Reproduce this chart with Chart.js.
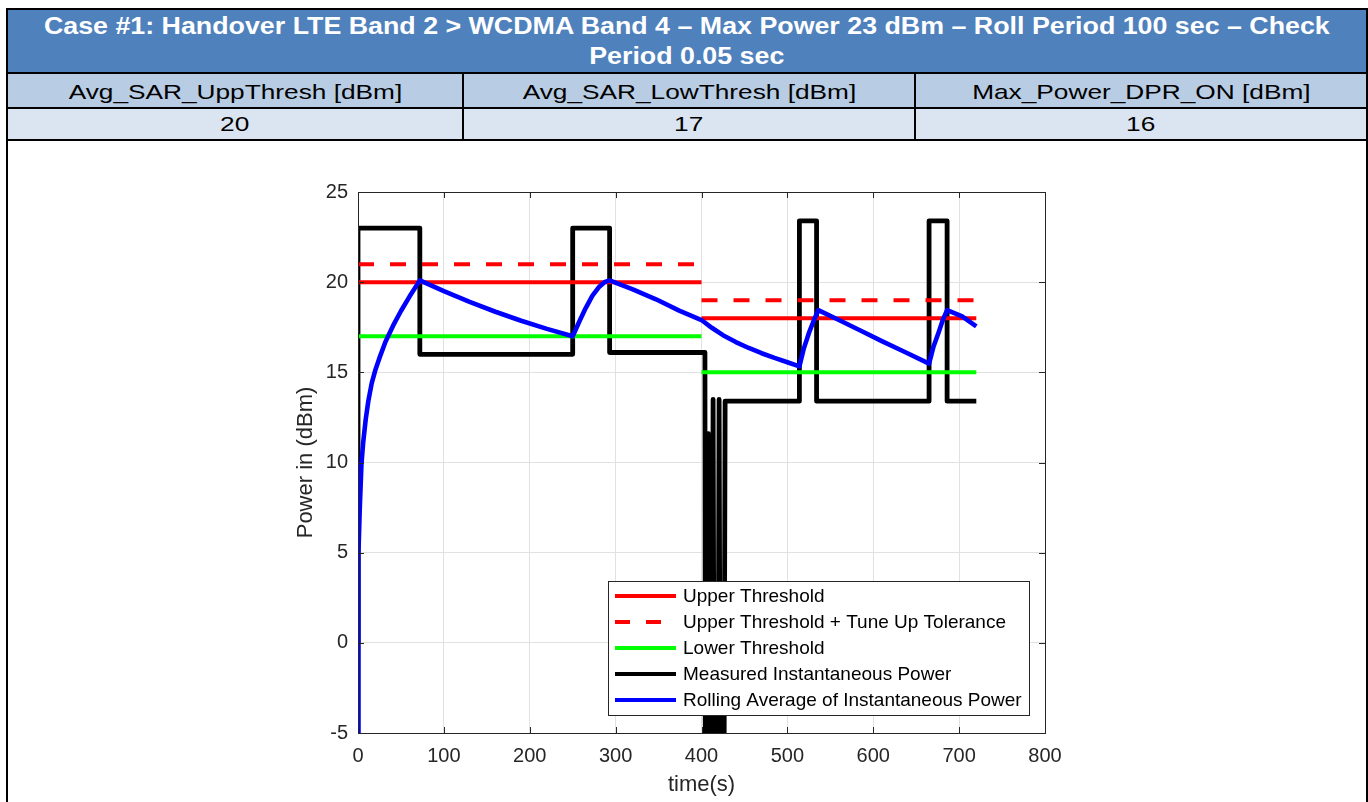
<!DOCTYPE html>
<html>
<head>
<meta charset="utf-8">
<title>Case #1: Handover LTE Band 2 &gt; WCDMA Band 4</title>
<script src="https://cdn.jsdelivr.net/npm/chart.js@4/dist/chart.umd.min.js"></script>
<style>
  html, body { margin: 0; padding: 0; background: #fff; width: 1368px; height: 802px; overflow: hidden;
               font-family: "Liberation Sans", Arial, Helvetica, sans-serif; }
  .hl { position: absolute; left: 6px; width: 1362px; height: 2px; background: #000; }
  .vl { position: absolute; width: 2px; background: #000; }
  .cell { position: absolute; display: flex; align-items: center; justify-content: center; }
  .cell span { display: inline-block; white-space: nowrap; }
  #head { left: 8px; top: 10px; width: 1358px; height: 62px; background: #4F81BD; color: #fff;
          font-weight: bold; font-size: 23px; line-height: 30px; text-align: center; flex-direction: column; }
  #head span { transform: scaleX(1.165); }
  .r2 { top: 74px; height: 33px; background: #B8CCE4; font-size: 21px; color: #000; }
  .r3 { top: 109px; height: 30px; background: #DBE5F1; font-size: 21px; color: #000; }
  .r2 span, .r3 span { transform: scaleX(1.25); }
  .r2 span { position: relative; top: 1px; }
  #chartBox { position: absolute; left: 0; top: 142px; width: 1368px; height: 660px; }
</style>
</head>
<body>

<div class="cell" id="head">
  <span>Case #1: Handover LTE Band 2 &gt; WCDMA Band 4 – Max Power 23 dBm – Roll Period 100 sec – Check</span>
  <span>Period 0.05 sec</span>
</div>
<div class="cell r2" style="left:8px;width:454px;"><span>Avg_SAR_UppThresh [dBm]</span></div>
<div class="cell r2" style="left:464px;width:450px;"><span>Avg_SAR_LowThresh [dBm]</span></div>
<div class="cell r2" style="left:916px;width:450px;"><span>Max_Power_DPR_ON [dBm]</span></div>
<div class="cell r3" style="left:8px;width:454px;"><span>20</span></div>
<div class="cell r3" style="left:464px;width:450px;"><span>17</span></div>
<div class="cell r3" style="left:916px;width:450px;"><span>16</span></div>

<div class="hl" style="top:8px;"></div>
<div class="hl" style="top:72px;"></div>
<div class="hl" style="top:107px;"></div>
<div class="hl" style="top:139px;"></div>
<div class="vl" style="left:6px;top:8px;height:794px;"></div>
<div class="vl" style="left:1366px;top:8px;height:794px;"></div>
<div class="vl" style="left:462px;top:72px;height:69px;"></div>
<div class="vl" style="left:914px;top:72px;height:69px;"></div>

<div id="chartBox"><canvas id="chart"></canvas></div>

<script>
// Threshold levels per phase (LTE Band 2 until 400 s, then WCDMA Band 4)
const phaseEdges = [0, 400, 720];
const upperThreshold = [20, 18];
const tuneUpThreshold = [21, 19];
const lowerThreshold = [17, 15];

// Measured instantaneous power (dBm) vs time (s)
const instTime  = [0, 0, 72, 72, 250, 250, 293, 293, 404, 404.5, 407, 408, 409, 412, 413.5, 415, 419, 420.5, 422, 426, 427.5,
                   514, 514, 534, 534, 665, 665, 686, 686, 720];
const instPower = [0, 23, 23, 16, 16, 23, 23, 16.1, 16.1, -12, -12, 11.6, -12, -12, 13.5, -12, -12, 13.5, -12, -12, 13.4,
                   13.4, 23.4, 23.4, 13.4, 13.4, 23.4, 23.4, 13.4, 13.4];

// Rolling average of instantaneous power (dBm) vs time (s)
const avgTime  = [0, 0.3, 0.8, 2, 4, 6, 9, 12, 16, 20, 25, 32, 41, 50, 60, 72,
                  100, 130, 160, 190, 220, 250,
                  258, 265, 273, 281, 287, 293,
                  320, 347, 374, 400,
                  412, 425, 440, 455, 470, 485, 500, 514,
                  519, 525, 531, 536,
                  560, 585, 610, 635, 665,
                  670, 676, 681, 686,
                  703.5, 720];
const avgPower = [-5, 0, 5, 7.4, 9.9, 11.1, 12.4, 13.4, 14.4, 15.1, 15.8, 16.7, 17.6, 18.4, 19.2, 20.1,
                  19.5, 18.91, 18.36, 17.86, 17.41, 17.0,
                  17.85, 18.55, 19.25, 19.75, 20.0, 20.1,
                  19.6, 19.05, 18.42, 17.9,
                  17.47, 17.06, 16.68, 16.35, 16.06, 15.8, 15.56, 15.33,
                  16.3, 17.17, 17.9, 18.45,
                  17.9, 17.32, 16.73, 16.17, 15.48,
                  16.4, 17.2, 17.9, 18.45,
                  18.1, 17.55];

// Axis ticks
const xTicks = [0, 100, 200, 300, 400, 500, 600, 700, 800];
const yTicks = [-5, 0, 5, 10, 15, 20, 25];

const axisColor = '#262626';
const gridColor = '#e1e1e1';
const fontFamily = '"Liberation Sans", Arial, Helvetica, sans-serif';

function stepLevels(edges, levels) {
  const pts = [];
  levels.forEach((v, i) => {
    if (i > 0) pts.push({ x: edges[i], y: null });
    pts.push({ x: edges[i], y: v }, { x: edges[i + 1], y: v });
  });
  return pts;
}
const zipXY = (xs, ys) => xs.map((x, i) => ({ x, y: ys[i] }));

const lineBase = { pointRadius: 0, pointHoverRadius: 0, tension: 0, fill: false, spanGaps: false, borderWidth: 4 };

const datasets = [
  Object.assign({}, lineBase, { label: 'Upper Threshold', data: stepLevels(phaseEdges, upperThreshold),
    borderColor: '#ff0000', order: 1 }),
  Object.assign({}, lineBase, { label: 'Upper Threshold + Tune Up Tolerance', data: stepLevels(phaseEdges, tuneUpThreshold),
    borderColor: '#ff0000', borderDash: [16, 16], order: 1, legendDash: [15, 16] }),
  Object.assign({}, lineBase, { label: 'Lower Threshold', data: stepLevels(phaseEdges, lowerThreshold),
    borderColor: '#00ff00', order: 1 }),
  Object.assign({}, lineBase, { label: 'Measured Instantaneous Power', data: zipXY(instTime, instPower),
    borderColor: '#000000', borderWidth: 4.8, borderJoinStyle: 'round', order: 2 }),
  Object.assign({}, lineBase, { label: 'Rolling Average of Instantaneous Power', data: zipXY(avgTime, avgPower),
    borderColor: '#0000ff', borderWidth: 4.6, borderJoinStyle: 'round', order: 0 })
];

// Axes box with inward tick marks on all four sides
const axesBox = {
  id: 'axesBox',
  afterDatasetsDraw(chart) {
    const { ctx, chartArea: a, scales: { x, y } } = chart;
    ctx.save();
    ctx.strokeStyle = axisColor;
    ctx.lineWidth = 1;
    ctx.strokeRect(Math.round(a.left) + 0.5, Math.round(a.top) + 0.5,
                   Math.round(a.right - a.left), Math.round(a.bottom - a.top));
    ctx.beginPath();
    const tl = 6;
    xTicks.forEach(v => {
      const px = Math.round(x.getPixelForValue(v)) + 0.5;
      ctx.moveTo(px, a.bottom); ctx.lineTo(px, a.bottom - tl);
      ctx.moveTo(px, a.top); ctx.lineTo(px, a.top + tl);
    });
    yTicks.forEach(v => {
      const py = Math.round(y.getPixelForValue(v)) + 0.5;
      ctx.moveTo(a.left, py); ctx.lineTo(a.left + tl, py);
      ctx.moveTo(a.right, py); ctx.lineTo(a.right - tl, py);
    });
    ctx.stroke();
    ctx.restore();
  }
};

// Legend box in the lower right of the axes
const insetLegend = {
  id: 'insetLegend',
  afterDraw(chart) {
    const { ctx, chartArea: a } = chart;
    const w = 421, h = 134;
    const left = a.right - 16 - w, top = a.bottom - 18 - h;
    ctx.save();
    ctx.fillStyle = '#ffffff';
    ctx.fillRect(left, top, w, h);
    ctx.strokeStyle = axisColor;
    ctx.lineWidth = 1;
    ctx.strokeRect(Math.round(left) + 0.5, Math.round(top) + 0.5, w, h);
    ctx.font = '19px ' + fontFamily;
    ctx.textBaseline = 'middle';
    ctx.textAlign = 'left';
    chart.data.datasets.forEach((ds, i) => {
      const cy = top + 15 + i * 26;
      ctx.beginPath();
      ctx.strokeStyle = ds.borderColor;
      ctx.lineWidth = 4;
      ctx.setLineDash(ds.legendDash || []);
      ctx.moveTo(left + 7, cy);
      ctx.lineTo(left + 68, cy);
      ctx.stroke();
      ctx.setLineDash([]);
      ctx.fillStyle = '#000000';
      ctx.fillText(ds.label, left + 75, cy + 1);
    });
    ctx.restore();
  }
};

new Chart(document.getElementById('chart'), {
  type: 'line',
  data: { datasets },
  plugins: [axesBox, insetLegend],
  options: {
    responsive: true,
    maintainAspectRatio: false,
    animation: false,
    events: [],
    layout: { padding: { left: 283, right: 323, top: 50, bottom: 4 } },
    plugins: { legend: { display: false }, tooltip: { enabled: false } },
    scales: {
      x: {
        type: 'linear', min: 0, max: 800,
        afterBuildTicks: s => { s.ticks = xTicks.map(v => ({ value: v })); },
        afterFit: s => { s.height = 65; },
        grid: { color: gridColor, drawTicks: false },
        border: { display: false },
        ticks: { color: axisColor, font: { family: fontFamily, size: 20 }, padding: 11, maxRotation: 0 },
        title: { display: true, text: 'time(s)', color: axisColor, font: { family: fontFamily, size: 22 },
                 padding: { top: 0, bottom: 0 } }
      },
      y: {
        type: 'linear', min: -5, max: 25,
        afterBuildTicks: s => { s.ticks = yTicks.map(v => ({ value: v })); },
        afterFit: s => { s.width = 75; },
        grid: { color: gridColor, drawTicks: false },
        border: { display: false },
        ticks: { color: axisColor, font: { family: fontFamily, size: 20 }, padding: 10 },
        title: { display: true, text: 'Power in (dBm)', color: axisColor, font: { family: fontFamily, size: 22 },
                 padding: { top: 10, bottom: 0 } }
      }
    }
  }
});
</script>
</body>
</html>
